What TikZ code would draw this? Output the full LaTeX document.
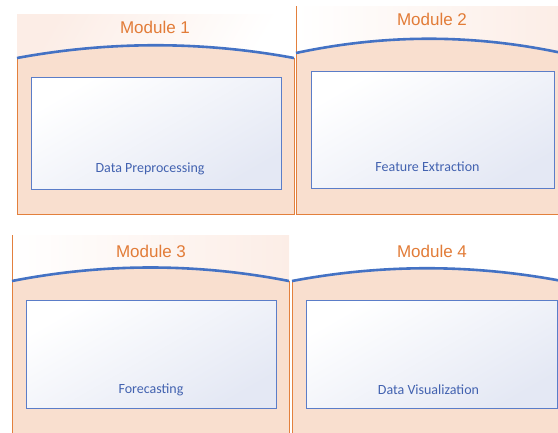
\documentclass[tikz,border=0pt]{standalone}
\usepackage{fontspec}
\setmainfont{Liberation Sans}
\newfontfamily\labelfont{Carlito}
\usepackage{tikz}
\usetikzlibrary{positioning,backgrounds}
\definecolor{panelfill}{HTML}{F9DFCF}
\definecolor{headfill}{HTML}{FCEDE6}
\definecolor{panelline}{HTML}{E3803D}
\definecolor{arcblue}{HTML}{4472C4}
\definecolor{boxline}{HTML}{5B7DC8}
\definecolor{boxlav}{HTML}{E4E8F4}
\definecolor{labelblue}{HTML}{4262B0}
\definecolor{titleorange}{HTML}{E27C38}

\begin{document}
\begin{tikzpicture}[
x=1pt, y=-1pt,
font=\normalfont,
header/.style={draw=none, shading=axis, left color=headfill, right color=white, shading angle=60},
body/.style={draw=none, fill=panelfill},
edge/.style={panelline, line width=1pt},
bulge/.style={arcblue, line width=2.6pt},
innerbox/.style={draw=boxline, line width=1pt, shading=axis, top color=white, bottom color=boxlav, shading angle=30, inner sep=0pt},
tasktext/.style={font=\labelfont\fontsize{14}{16}\selectfont, text=labelblue},
moduletitle/.style={font=\fontsize{17}{19}\selectfont, text=titleorange}
]
    \useasboundingbox (0,0) rectangle (558,432);

    % Module 1
    \fill [header] (17,14) rectangle (294,58);
    \fill [body] (17,58) .. controls (109,41) and (202,41) .. (294,58) -- (294,214) -- (17,214) -- cycle;
    \draw [edge] (17,58) -- (17,214) -- (294,214) -- (294,58);
    \draw [bulge] (17,58) .. controls (109,41) and (202,41) .. (294,58);
    \node [moduletitle] (title1) at (155,27) {Module 1};
    \node [innerbox, minimum width=250pt, minimum height=112pt] (prep) at (156,133) {};
    \node [tasktext] (prep-text) at ([xshift=-6pt,yshift=21pt]prep.south) {Data Preprocessing};

    % Module 2
    \fill [header, left color=white, right color=headfill] (296,6) rectangle (562,53);
    \fill [body] (296,53) .. controls (385,34) and (473,34) .. (562,53) -- (562,214) -- (296,214) -- cycle;
    \draw [edge] (296,6) -- (296,214) -- (562,214);
    \draw [bulge] (296,53) .. controls (385,34) and (473,34) .. (562,53);
    \node [moduletitle] (title2) at (432,19) {Module 2};
    \node [innerbox, minimum width=243pt, minimum height=117pt] (feat) at (432.5,129.5) {};
    \node [tasktext] (feat-text) at ([xshift=-5pt,yshift=22pt]feat.south) {Feature Extraction};

    % Module 3
    \fill [header, left color=white, right color=headfill] (12,235) rectangle (289,281);
    \fill [body] (12,281) .. controls (104,263) and (197,263) .. (289,281) -- (289,436) -- (12,436) -- cycle;
    \draw [edge] (12,235) -- (12,436);
    \draw [edge] (289,281) -- (289,436);
    \draw [bulge] (12,281) .. controls (104,263) and (197,263) .. (289,281);
    \node [moduletitle] (title3) at (151,251) {Module 3};
    \node [innerbox, minimum width=250pt, minimum height=108pt] (fore) at (151,354) {};
    \node [tasktext] (fore-text) at ([yshift=19pt]fore.south) {Forecasting};

    % Module 4
    \fill [header, left color=white, right color=white] (292,235) rectangle (562,281);
    \fill [body] (292,281) .. controls (382,264) and (472,264) .. (562,281) -- (562,436) -- (292,436) -- cycle;
    \draw [edge] (292,281) -- (292,436);
    \draw [bulge] (292,281) .. controls (382,264) and (472,264) .. (562,281);
    \node [moduletitle] (title4) at (432,251) {Module 4};
    \node [innerbox, minimum width=251pt, minimum height=108pt] (visu) at (431.5,354) {};
    \node [tasktext] (visu-text) at ([xshift=-3pt,yshift=19pt]visu.south) {Data Visualization};

\end{tikzpicture}
\end{document}
